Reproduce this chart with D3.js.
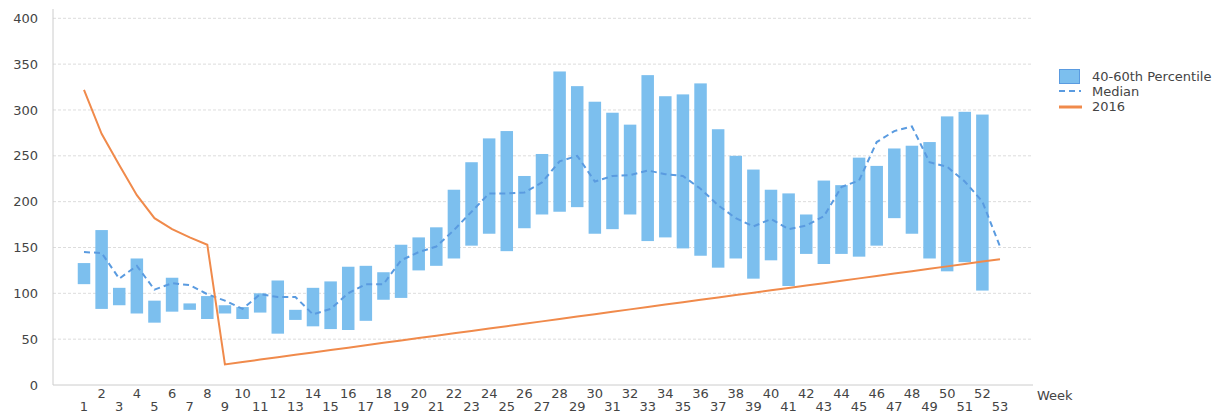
<!DOCTYPE html>
<html><head><meta charset="utf-8">
<script src="https://cdn.jsdelivr.net/npm/d3@7"></script>
<style>
html,body{margin:0;padding:0;background:#fff;}
svg text{font-family:"DejaVu Sans",sans-serif;fill:#444;}
</style></head>
<body><svg id="c" width="1227" height="414"></svg>
<script>
const weeks = d3.range(1, 54);
const barWeeks = d3.range(1, 53);
const pctLow  = [110,83,87,78,68,80,82,72,78,72,79,56,71,64,61,60,70,93,95,125,130,138,152,165,146,171,186,189,194,165,170,186,157,161,149,141,128,138,116,136,108,143,132,143,140,152,182,165,138,124,134,103];
const pctHigh = [133,169,106,138,92,117,89,97,87,85,100,114,82,106,113,129,130,123,153,161,172,213,243,269,277,228,252,342,326,309,297,284,338,315,317,329,279,250,235,213,209,186,223,218,248,239,258,261,265,293,298,295];
const median  = [145,144,116,130,104,111,109,99,92,83,99,96,96,77,83,100,110,110,136,145,151,169,189,209,209,210,221,244,250,222,228,229,234,230,228,214,196,182,173,181,170,174,184,216,223,265,277,282,243,238,222,200,151];
const y2016   = [322,274,240,207,182,170,161,153,22.5,25.1,27.7,30.3,32.9,35.5,38.1,40.7,43.4,46.0,48.6,51.2,53.8,56.4,59.0,61.6,64.2,66.8,69.4,72.0,74.6,77.2,79.8,82.5,85.1,87.7,90.3,92.9,95.5,98.1,100.7,103.3,105.9,108.5,111.1,113.7,116.3,118.9,121.6,124.2,126.8,129.4,132.0,134.6,137.2];
const yTicks  = [0,50,100,150,200,250,300,350,400];
const legendLabels = ["40-60th Percentile","Median","2016"];

const svg = d3.select("#c");
const x = d3.scaleLinear().domain([1,53]).range([84,1000]);
const y = d3.scaleLinear().domain([0,400]).range([385,18.3]);
const left = 53, right = 1033;

// gridlines
svg.append("g").selectAll("line").data(yTicks.filter(d=>d>0)).join("line")
  .attr("x1",left).attr("x2",right).attr("y1",d=>y(d)).attr("y2",d=>y(d))
  .attr("stroke","#ddd").attr("stroke-dasharray","3,2").attr("stroke-width",1);

// y axis
const yAxis = d3.axisLeft(y).tickValues(yTicks).tickSize(0).tickPadding(15);
const gy = svg.append("g").attr("transform",`translate(${left},0)`).call(yAxis);
gy.select(".domain").remove();
gy.selectAll("text").attr("font-size",13).attr("fill","#444").style("font-family","DejaVu Sans");
svg.append("line").attr("x1",left).attr("x2",left).attr("y1",9).attr("y2",385).attr("stroke","#ccc");
svg.append("line").attr("x1",left).attr("x2",right).attr("y1",385).attr("y2",385).attr("stroke","#ccc");

// x labels
svg.append("g").selectAll("text").data(weeks).join("text")
  .attr("x",d=>x(d)).attr("y",d=>d%2===0?398:411)
  .attr("text-anchor","middle").attr("font-size",13).text(d=>d);
svg.append("text").attr("x",1037).attr("y",400).attr("font-size",13).text("Week");

// bars
const bw = 12.5;
svg.append("g").selectAll("rect").data(barWeeks).join("rect")
  .attr("x",d=>x(d)-bw/2).attr("width",bw)
  .attr("y",(d,i)=>y(pctHigh[i])).attr("height",(d,i)=>y(pctLow[i])-y(pctHigh[i]))
  .attr("fill","#7cbfee");

// median
svg.append("path").datum(weeks)
  .attr("d",d3.line().x(d=>x(d)).y((d,i)=>y(median[i])))
  .attr("fill","none").attr("stroke","#5a9be0").attr("stroke-width",2).attr("stroke-dasharray","6,4");

// 2016
svg.append("path").datum(weeks)
  .attr("d",d3.line().x(d=>x(d)).y((d,i)=>y(y2016[i])))
  .attr("fill","none").attr("stroke","#f08a4b").attr("stroke-width",2);

// legend
const lg = svg.append("g");
lg.append("rect").attr("x",1059.5).attr("y",69.5).attr("width",20).attr("height",14)
  .attr("fill","#7cbfee").attr("stroke","#5a9be0").attr("stroke-width",1);
lg.append("line").attr("x1",1059).attr("x2",1081).attr("y1",91).attr("y2",91)
  .attr("stroke","#5a9be0").attr("stroke-width",2).attr("stroke-dasharray","6,4");
lg.append("line").attr("x1",1059).attr("x2",1082).attr("y1",107).attr("y2",107)
  .attr("stroke","#f08a4b").attr("stroke-width",3);
lg.selectAll("text").data(legendLabels).join("text")
  .attr("x",1092).attr("y",(d,i)=>81+i*15).attr("font-size",13).text(d=>d);
</script></body></html>
